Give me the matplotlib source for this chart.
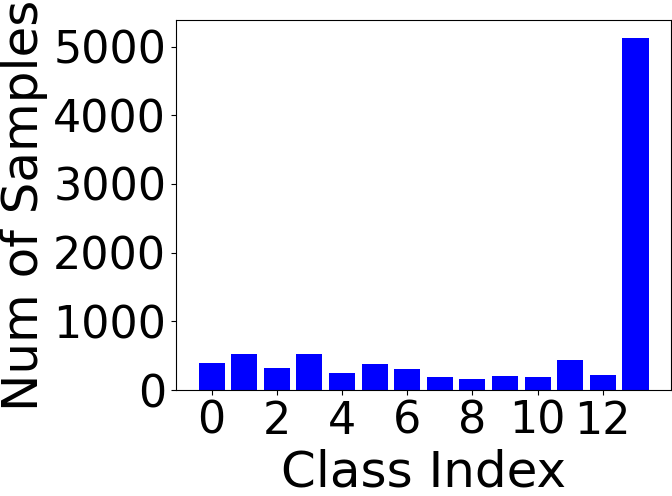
import matplotlib
matplotlib.use("Agg")
import matplotlib.pyplot as plt

# class index and sample counts per class
classes = list(range(14))
counts = [394, 525, 321, 525, 248, 379, 306, 190, 160, 204, 190, 437, 219, 5131]

fig = plt.figure(figsize=(6.72, 4.96), dpi=100)
ax = fig.add_axes([176 / 672, 106 / 496, 495 / 672, 370 / 496])
ax.bar(classes, counts, color="blue")
ax.set_xticks(range(0, 14, 2))
ax.set_yticks(range(0, 6000, 1000))
ax.tick_params(labelsize=32)
ax.set_xlabel("Class Index", fontsize=36)
ax.set_ylabel("Num of Samples", fontsize=36)

fig.savefig("out.png", dpi=100)
